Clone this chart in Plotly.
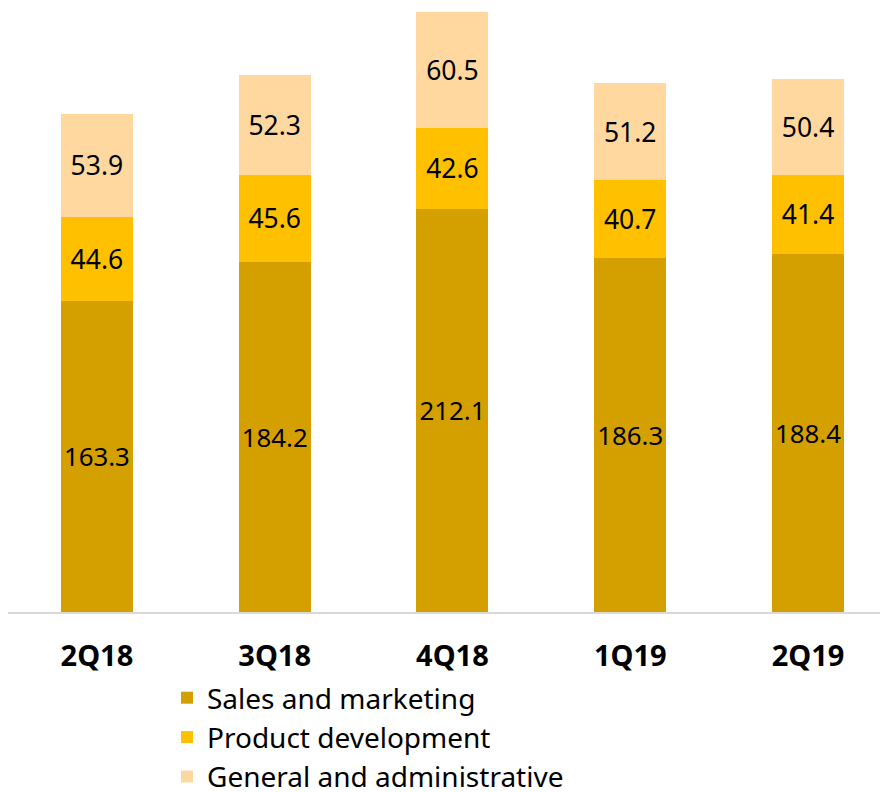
import plotly.graph_objects as go

quarters = ["2Q18", "3Q18", "4Q18", "1Q19", "2Q19"]
sales_marketing = [163.3, 184.2, 212.1, 186.3, 188.4]
product_dev = [44.6, 45.6, 42.6, 40.7, 41.4]
general_admin = [53.9, 52.3, 60.5, 51.2, 50.4]

series = [
    ("Sales and marketing", sales_marketing, "#D4A000"),
    ("Product development", product_dev, "#FFC000"),
    ("General and administrative", general_admin, "#FFD8A0"),
]

FONT = "Noto Sans"
fig = go.Figure()
for i, (name, vals, col) in enumerate(series):
    fig.add_trace(go.Bar(
        x=quarters, y=vals, name=name,
        marker=dict(color=col, line=dict(width=0)),
        width=0.405,
        text=[f"{v:.1f}" for v in vals],
        textposition="inside", insidetextanchor="middle", textangle=0,
        textfont=dict(family=FONT, size=26.5, color="#000000"),
        legendgroup=f"g{i}",
    ))

fig.update_layout(
    width=880, height=784,
    margin=dict(l=0, r=0, t=2, b=180, autoexpand=False),
    barmode="stack",
    plot_bgcolor="white", paper_bgcolor="white",
    showlegend=True,
    legend=dict(
        orientation="v", traceorder="grouped", tracegroupgap=0,
        xref="container", yref="container",
        x=159/880, xanchor="left",
        y=1 - 665/784, yanchor="top",
        font=dict(family=FONT, size=28, color="#000000"),
        bgcolor="rgba(0,0,0,0)",
    ),
    xaxis=dict(
        range=[-0.5, 4.45],
        showline=True, linecolor="#D9D9D9", linewidth=2,
        ticks="outside", ticklen=17, tickcolor="rgba(0,0,0,0)",
        tickangle=0,
        tickfont=dict(family=FONT, size=29, color="#000000", weight="bold"),
        showgrid=False, zeroline=False,
    ),
    yaxis=dict(
        range=[0, 316.5], visible=False, showgrid=False, zeroline=False,
    ),
)

fig.write_html("out.html")
